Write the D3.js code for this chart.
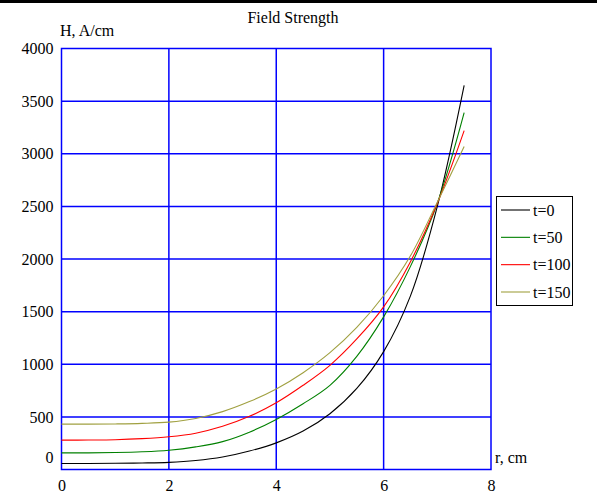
<!DOCTYPE html>
<html>
<head>
<meta charset="utf-8">
<script src="https://cdn.jsdelivr.net/npm/d3@7"></script>
<style>
  html, body { margin: 0; padding: 0; background: #fff; }
  svg { display: block; }
  svg text { font-family: "Liberation Serif", "Times New Roman", serif !important; fill: #000; }
</style>
</head>
<body>
<svg id="chart" width="597" height="494"></svg>
<script>
// Radius samples, cm
const radius = [0, 0.5, 1, 1.5, 2, 2.5, 3, 3.5, 4, 4.5, 5, 5.5, 6, 6.5, 7, 7.5];

// Field strength H (A/cm) at each radius, one array per time step
const h_t0   = [57, 57, 59, 62, 68, 85, 118, 175, 253, 365, 530, 770, 1120, 1650, 2500, 3650];
const h_t50  = [158, 158, 161, 168, 183, 215, 265, 355, 476, 625, 800, 1075, 1450, 1930, 2530, 3390];
const h_t100 = [279, 280, 283, 293, 311, 345, 410, 505, 634, 800, 990, 1240, 1545, 1975, 2530, 3220];
const h_t150 = [431, 431, 433, 438, 450, 485, 550, 645, 765, 920, 1110, 1350, 1651, 2030, 2540, 3068];

const seriesNames  = ["t=0", "t=50", "t=100", "t=150"];
const seriesColors = ["#000000", "#008000", "#ff0000", "#a0a040"];

const xTicks = [0, 2, 4, 6, 8];
const yTicks = [0, 500, 1000, 1500, 2000, 2500, 3000, 3500, 4000];

const series = [h_t0, h_t50, h_t100, h_t150].map((vals, i) => ({
  name: seriesNames[i],
  color: seriesColors[i],
  points: radius.map((r, j) => [r, vals[j]])
}));

const svg = d3.select("#chart").attr("font-family", "Liberation Serif, serif");
const gridColor = "#0000ff";
const serif = "Liberation Serif, serif";

const x = d3.scaleLinear().domain([0, 8]).range([61.5, 491]);
const y = d3.scaleLinear().domain([0, 4000]).range([469.5, 48.5]);

// thin black rule across the top
svg.append("rect").attr("x", 0).attr("y", 0).attr("width", 597).attr("height", 3).attr("fill", "#000");

// grid lines
const grid = svg.append("g");
grid.selectAll("line.v").data(xTicks.slice(1, -1)).join("line")
  .attr("x1", d => x(d)).attr("x2", d => x(d))
  .attr("y1", y(0)).attr("y2", y(4000))
  .attr("stroke", gridColor).attr("stroke-width", 1.5);
grid.selectAll("line.h").data(yTicks.slice(1, -1)).join("line")
  .attr("x1", x(0)).attr("x2", x(8))
  .attr("y1", d => y(d)).attr("y2", d => y(d))
  .attr("stroke", gridColor).attr("stroke-width", 1.5);
grid.append("rect")
  .attr("x", x(0)).attr("y", y(4000))
  .attr("width", x(8) - x(0)).attr("height", y(0) - y(4000))
  .attr("fill", "none").attr("stroke", gridColor).attr("stroke-width", 1.5);

// y axis labels
const yAxis = d3.axisLeft(y).tickValues(yTicks).tickSize(0).tickPadding(8).tickFormat(d3.format("d"));
const gy = svg.append("g").attr("transform", `translate(${x(0)},0)`).call(yAxis)
  .attr("font-family", serif).attr("font-size", 16);
gy.select(".domain").remove();
gy.selectAll(".tick").filter(d => d === 0).select("text").attr("y", -12);

// x axis labels
const xAxis = d3.axisBottom(x).tickValues(xTicks).tickSize(0).tickPadding(10).tickFormat(d3.format("d"));
const gx = svg.append("g").attr("transform", `translate(0,${y(0)})`).call(xAxis)
  .attr("font-family", serif).attr("font-size", 16);
gx.select(".domain").remove();

// curves
const line = d3.line().x(d => x(d[0])).y(d => y(d[1])).curve(d3.curveCatmullRom.alpha(0.5));
svg.append("g").selectAll("path").data(series).join("path")
  .attr("d", d => line(d.points))
  .attr("fill", "none")
  .attr("stroke", d => d.color)
  .attr("stroke-width", 1.1);

// titles
svg.append("text").attr("x", 293).attr("y", 23).attr("text-anchor", "middle")
  .attr("font-size", 16).text("Field Strength");
svg.append("text").attr("x", 60).attr("y", 36)
  .attr("font-size", 16).text("H, A/cm");
svg.append("text").attr("x", 495).attr("y", 463)
  .attr("font-size", 16).text("r, cm");

// legend
const legend = svg.append("g");
legend.append("rect").attr("x", 496.5).attr("y", 196.5).attr("width", 76).attr("height", 109)
  .attr("fill", "#fff").attr("stroke", "#000").attr("stroke-width", 1);
const rowY = d3.scalePoint().domain(seriesNames).range([210, 292]);
const rows = legend.selectAll("g.row").data(series).join("g")
  .attr("transform", d => `translate(0,${rowY(d.name)})`);
rows.append("line").attr("x1", 501).attr("x2", 530).attr("y1", 0).attr("y2", 0)
  .attr("stroke", d => d.color).attr("stroke-width", 1.1);
rows.append("text").attr("x", 533).attr("y", 0).attr("dy", "0.35em")
  .attr("font-size", 16).text(d => d.name);
</script>
</body>
</html>
